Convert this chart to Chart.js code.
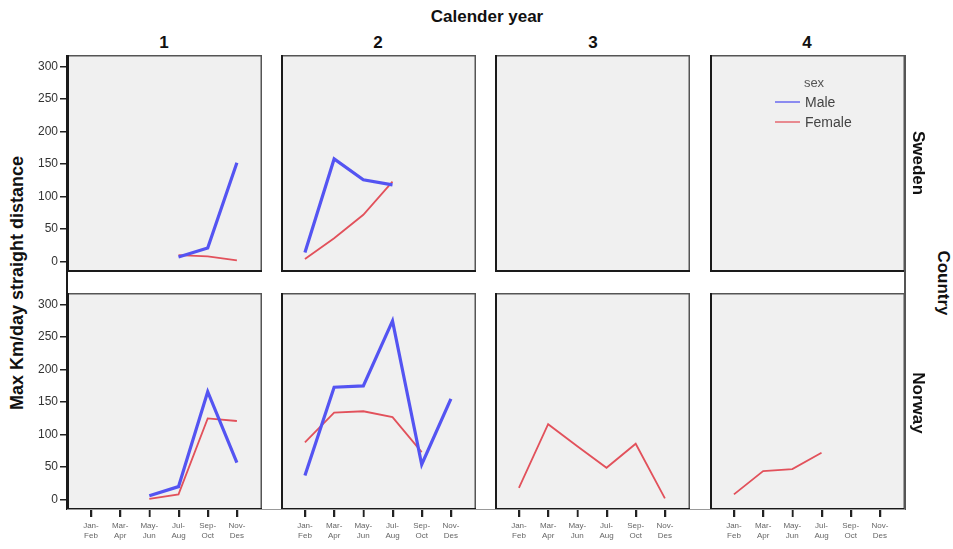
<!DOCTYPE html>
<html>
<head>
<meta charset="utf-8">
<script src="https://cdn.jsdelivr.net/npm/chart.js@4.4.0/dist/chart.umd.min.js"></script>
<style>
  html, body { margin:0; padding:0; background:#fff; }
  #wrap { position:relative; width:953px; height:549px; overflow:hidden; font-family:"Liberation Sans", Arial, sans-serif; }
  canvas { position:absolute; }
  .t { position:absolute; white-space:nowrap; color:#111; font-weight:bold; transform-origin:center center; }
  .ln { position:absolute; }
</style>
</head>
<body>
<div id="wrap"></div>
<script>
// ---- data ----
const monthLabels = ['Jan-Feb','Mar-Apr','May-Jun','Jul-Aug','Sep-Oct','Nov-Des'];
const years = ['1','2','3','4'];
const countries = ['Sweden','Norway'];
const yTicks = [0,50,100,150,200,250,300];

const swedenMale   = [
  [null,null,null,7,21,152],
  [14,158,126,118,null,null],
  [null,null,null,null,null,null],
  [null,null,null,null,null,null]
];
const swedenFemale = [
  [null,null,null,10,8,2],
  [4,36,72,123,null,null],
  [null,null,null,null,null,null],
  [null,null,null,null,null,null]
];
const norwayMale   = [
  [null,null,6,20,166,57],
  [37,173,175,275,54,155],
  [null,null,null,null,null,null],
  [null,null,null,null,null,null]
];
const norwayFemale = [
  [null,null,1,8,125,121],
  [88,134,136,127,73,null],
  [18,116,82,49,86,2],
  [8,44,47,72,null,null]
];

const maleColor = '#5454f2';
const femaleColor = '#e2515b';

// ---- layout ----
const wrap = document.getElementById('wrap');
const panelLeft = [67, 281, 495, 710];
const panelTop = [55, 293];
const PW = 195, PH = 217;
const AXW = 37, AXH = 39;

function addText(txt, cx, cy, size, rot, extra) {
  const d = document.createElement('div');
  d.className = 't';
  d.textContent = txt;
  d.style.fontSize = size + 'px';
  d.style.left = cx + 'px';
  d.style.top = cy + 'px';
  d.style.transform = 'translate(-50%,-50%) rotate(' + (rot||0) + 'deg)';
  if (extra) Object.assign(d.style, extra);
  wrap.appendChild(d);
  return d;
}
function addLine(x, y, w, h, c) {
  const d = document.createElement('div');
  d.className = 'ln';
  Object.assign(d.style, {left:x+'px', top:y+'px', width:w+'px', height:h+'px', background:c});
  wrap.appendChild(d);
}

const panelBox = {
  id: 'panelBox',
  beforeDraw(chart) {
    const a = chart.chartArea, ctx = chart.ctx;
    ctx.save();
    ctx.fillStyle = '#f0f0f0';
    ctx.fillRect(a.left, a.top, a.right - a.left, a.bottom - a.top);
    ctx.restore();
  },
  afterDraw(chart) {
    const a = chart.chartArea, ctx = chart.ctx;
    ctx.save();
    ctx.strokeStyle = '#555';
    ctx.lineWidth = 1.5;
    ctx.beginPath();
    ctx.moveTo(a.left, a.top + 0.75); ctx.lineTo(a.right, a.top + 0.75);
    ctx.moveTo(a.right - 0.75, a.top); ctx.lineTo(a.right - 0.75, a.bottom);
    ctx.stroke();
    ctx.strokeStyle = '#1a1a1a';
    ctx.lineWidth = 2;
    ctx.beginPath();
    ctx.moveTo(a.left + 1, a.top); ctx.lineTo(a.left + 1, a.bottom);
    ctx.moveTo(a.left, a.bottom - 1); ctx.lineTo(a.right, a.bottom - 1);
    ctx.stroke();
    // x tick marks below the panel (from the library's x scale)
    const xs = chart.scales.x;
    if (xs && xs.options.display) {
      ctx.strokeStyle = '#222';
      ctx.lineWidth = 1.5;
      ctx.beginPath();
      xs.ticks.forEach((t, i) => {
        const px = Math.round(xs.getPixelForTick(i)) + 0.5;
        ctx.moveTo(px, a.bottom);
        ctx.lineTo(px, a.bottom + 7);
      });
      ctx.stroke();
    }
    ctx.restore();
  }
};

function toXY(arr) { return arr.map((v, i) => ({x: i, y: v})); }

function makePanel(row, col, male, female) {
  const isLeft = col === 0, isBottom = row === 1;
  const c = document.createElement('canvas');
  const left = isLeft ? panelLeft[col] - AXW : panelLeft[col];
  const w = PW + (isLeft ? AXW : 0);
  const h = PH + (isBottom ? AXH : 0);
  c.width = w; c.height = h;
  c.style.left = left + 'px'; c.style.top = panelTop[row] + 'px';
  c.style.width = w + 'px'; c.style.height = h + 'px';
  wrap.appendChild(c);
  new Chart(c, {
    type: 'line',
    data: {
      datasets: [
        {label: 'Male', data: toXY(male), borderColor: maleColor, borderWidth: 3.2, pointRadius: 0, spanGaps: false, tension: 0},
        {label: 'Female', data: toXY(female), borderColor: femaleColor, borderWidth: 1.8, pointRadius: 0, spanGaps: false, tension: 0}
      ]
    },
    options: {
      responsive: false,
      animation: false,
      devicePixelRatio: 1,
      layout: {padding: 0},
      plugins: {legend: {display: false}, tooltip: {enabled: false}, title: {display: false}},
      scales: {
        x: {
          type: 'linear', min: -0.82, max: 5.86,
          display: isBottom,
          afterBuildTicks(s) { s.ticks = monthLabels.map((_, i) => ({value: i})); },
          afterFit(s) { s.height = isBottom ? AXH : 0; s.paddingLeft = 0; s.paddingRight = 0; },
          grid: {drawOnChartArea: false, drawTicks: true, tickLength: 7, tickColor: '#222', color: '#222', lineWidth: 1.5},
          border: {display: false},
          ticks: {
            autoSkip: false, maxRotation: 0, padding: 4,
            color: '#666', font: {size: 8, family: '"Liberation Sans", Arial, sans-serif', lineHeight: 1.25},
            callback(v) { const s = monthLabels[v]; if (!s) return ''; const p = s.split('-'); return [p[0] + '-', p[1]]; }
          }
        },
        y: {
          type: 'linear', min: -16, max: 318,
          display: isLeft,
          afterBuildTicks(s) { s.ticks = yTicks.map(v => ({value: v})); },
          afterFit(s) { s.width = isLeft ? AXW : 0; s.paddingTop = 0; s.paddingBottom = 0; },
          grid: {drawOnChartArea: false, drawTicks: true, tickLength: 7, tickColor: '#222', lineWidth: 1.5},
          border: {display: false},
          ticks: {padding: 2, color: '#333', font: {size: 12, family: '"Liberation Sans", Arial, sans-serif'}}
        }
      }
    },
    plugins: [panelBox]
  });
}

for (let col = 0; col < 4; col++) {
  makePanel(0, col, swedenMale[col], swedenFemale[col]);
  makePanel(1, col, norwayMale[col], norwayFemale[col]);
}

// continuous frame lines
addLine(66, 55, 2, 455, '#1a1a1a');
addLine(904, 55, 1.5, 455, '#555');
addLine(67, 509, 838, 1, '#999');

// titles
addText('Calender year', 487, 17, 17);
const stripX = [164, 378, 593, 807];
years.forEach((y, i) => addText(y, stripX[i], 43, 17));
addText(countries[0], 918, 163, 17, 90);
addText(countries[1], 918, 403, 17, 90);
addText('Country', 943, 283, 17, 90);
addText('Max Km/day straight distance', 17, 283, 18, -90);

// legend
addText('sex', 814, 82, 13, 0, {fontWeight: 'normal', color: '#555'});
addLine(775, 101, 25, 2, '#8b8bf0');
addLine(775, 121, 25, 2, '#e88a90');
addText('Male', 0, 102, 14, 0, {fontWeight: 'normal', color: '#444', transform: 'translateY(-50%)', left: '805px'});
addText('Female', 0, 122, 14, 0, {fontWeight: 'normal', color: '#444', transform: 'translateY(-50%)', left: '805px'});
</script>
</body>
</html>
